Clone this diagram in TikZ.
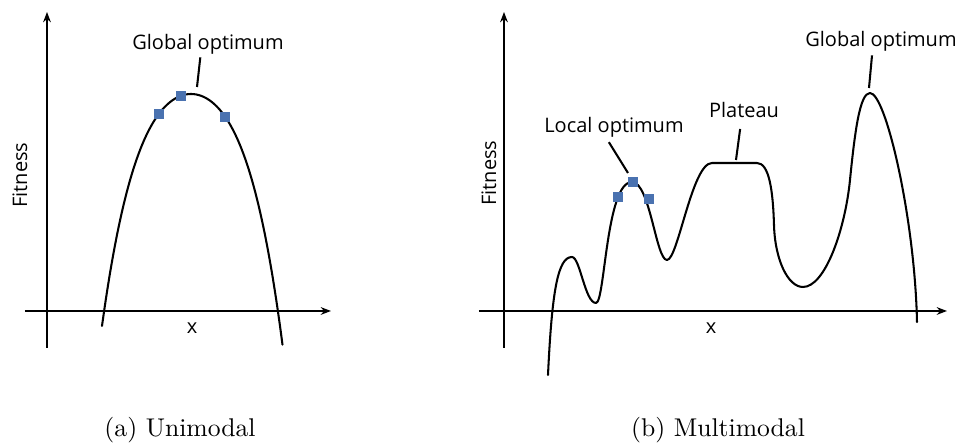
\documentclass[tikz,border=0pt]{standalone}
\usepackage{fontspec}
\newfontfamily\labelfont{Open Sans}
\usetikzlibrary{arrows.meta, positioning}
\definecolor{sampleblue}{RGB}{74,114,176}

\begin{document}
\begin{tikzpicture}[x=0.39pt, y=-0.39pt,
    curve/.style={line width=0.8pt, line join=round, line cap=round},
    axis/.style={line width=0.8pt, -{Stealth[length=4pt, width=3pt]}},
    sample/.style={draw=none, fill=sampleblue, minimum size=4.2pt, inner sep=0pt},
    lbl/.style={font=\labelfont\fontsize{7.8}{9}\selectfont, inner sep=0pt},
    lead/.style={line width=0.8pt},
    caption/.style={font=\fontsize{10}{12}\selectfont, anchor=base, inner sep=0pt}
]
    \useasboundingbox (0,0) rectangle (957,443);

    % (a) unimodal
    \coordinate (ua0) at (47,348);
    \coordinate (ua1) at (47,12);
    \coordinate (ub0) at (25,311);
    \coordinate (ub1) at (331,311);
    \draw[axis] (ua0) -- (ua1);
    \draw[axis] (ub0) -- (ub1);
    \node[lbl, rotate=90] (ufit) at (20,175) {Fitness};
    \node[lbl] (ux) at (192,328) {x};

    \draw[curve] plot[domain=102:282.5, samples=70, smooth]
        (\x, {94 + 178*((\x-191)/100)*((\x-191)/100)
              + 145*((\x-191)/100)*((\x-191)/100)*((\x-191)/100)*((\x-191)/100)});

    \node[sample] (us1) at (159,114) {};
    \node[sample] (us2) at (181,96) {};
    \node[sample] (us3) at (225,117) {};

    \node[lbl, anchor=base] (uglob) at (208,50) {Global optimum};
    \coordinate (upeak) at (197,87);
    \draw[lead] ([xshift=-3pt,yshift=-0.8pt]uglob.south) -- (upeak);

    \node[caption] (capa) at (180,437) {(a) Unimodal};

    % (b) multimodal
    \coordinate (ma0) at (504,348);
    \coordinate (ma1) at (504,12);
    \coordinate (mb0) at (479,311);
    \coordinate (mb1) at (947,311);
    \draw[axis] (ma0) -- (ma1);
    \draw[axis] (mb0) -- (mb1);
    \node[lbl, rotate=90] (mfit) at (489,173) {Fitness};
    \node[lbl] (mx) at (711,328) {x};

    \draw[curve] (548,375) .. controls (552,290) and (558,257) .. (572,257)
        .. controls (580,257) and (585,303) .. (596,303)
        .. controls (605,303) and (606,182) .. (632,182)
        .. controls (650,182) and (656,260) .. (667,260)
        .. controls (678,260) and (692,163) .. (712,163)
        -- (757,163)
        .. controls (769,163) and (773,190) .. (774,225)
        .. controls (775,260) and (788,287) .. (803,287)
        .. controls (825,287) and (845,230) .. (850,180)
        .. controls (855,130) and (860,93) .. (870,93)
        .. controls (886,93) and (915,220) .. (917,322);

    \node[sample] (ms1) at (618,197) {};
    \node[sample] (ms2) at (633,182) {};
    \node[sample] (ms3) at (649,199) {};

    \node[lbl, anchor=base] (mloc) at (614,133) {Local optimum};
    \coordinate (mlocpeak) at (628,173);
    \draw[lead] ([xshift=-2pt,yshift=-1.5pt]mloc.south) -- (mlocpeak);

    \node[lbl, anchor=base] (mplat) at (744,118) {Plateau};
    \coordinate (mplattop) at (736,160);
    \draw[lead] ([xshift=-1.5pt,yshift=-4pt]mplat.south) -- (mplattop);

    \node[lbl, anchor=base] (mglob) at (881,47) {Global optimum};
    \coordinate (mpeak) at (869,88);
    \draw[lead] ([xshift=-3.5pt,yshift=-1.2pt]mglob.south) -- (mpeak);

    \node[caption] (capb) at (718,437) {(b) Multimodal};
\end{tikzpicture}
\end{document}
